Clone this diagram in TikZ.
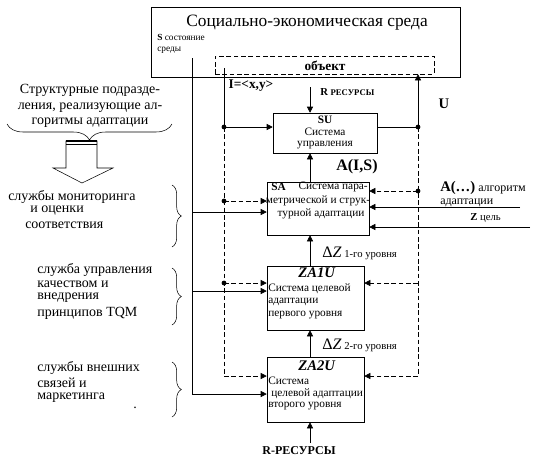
\documentclass[tikz,border=0pt]{standalone}
\usepackage{fontspec}
\setmainfont{Liberation Serif}
\usetikzlibrary{arrows.meta,decorations.pathreplacing,positioning}

\begin{document}
\begin{tikzpicture}[x=0.75pt,y=-0.75pt,
  box/.style={draw,rectangle,inner sep=0pt},
  arr/.style={-{Triangle[length=4.5pt,width=4.5pt]}},
  dsh/.style={dash pattern=on 3.5pt off 2pt},
  brc/.style={decorate,decoration={brace,amplitude=#1}},
  tx/.style={inner sep=0pt,font=\fontsize{#1}{#1}\selectfont},
  lt/.style={tx=#1,anchor=west}]
\useasboundingbox (0,0) rectangle (538,461);
% blocks
\node[box,minimum width=231.75pt,minimum height=52.5pt] (env) at (305.5,42) {};
\node[box,dsh,minimum width=164.25pt,minimum height=13.5pt] (obj) at (324.5,65) {};
\node[box,minimum width=78pt,minimum height=30pt] (SU) at (325,133) {};
\node[box,minimum width=76.5pt,minimum height=39.75pt] (SA) at (318,208.5) {};
\node[box,minimum width=72.75pt,minimum height=48pt] (ZA1) at (315.5,298) {};
\node[box,minimum width=72.75pt,minimum height=48.75pt] (ZA2) at (315.5,389.5) {};
% texts of the environment
\node[tx=13] (ttl) at (307,23) {Социально-экономическая среда};
\node[lt=7] (st1) at (157,37) {\textbf{S} состояние};
\node[lt=7] (st2) at (157,50) {среды};
\node[tx=10] (objt) at (325,66) {\textbf{объект}};
\node[tx=10] (inp) at (251,86) {\textbf{I=<x,y>}};
\node[lt=8] (rtop) at (320,92) {\textbf{R \fontsize{6.5}{7}\selectfont РЕСУРСЫ}};
\node[tx=11] (ul) at (444,104) {\textbf{U}};
\node[tx=12] (ais) at (357,167) {\textbf{A(I,S)}};
% texts of the blocks
\node[tx=8.5] (su1) at (325,120) {\textbf{SU}};
\node[tx=8.5] (su2) at (325,132) {Система};
\node[tx=8.5] (su3) at (325,145) {управления};
\node[lt=8.5] (sa1) at (271,187) {\textbf{SA}};
\node[tx=8.5,anchor=east] (sa2) at (368,187) {Система пара-};
\node[tx=8.5] (sa3) at (318,201) {метрической и струк-};
\node[tx=8.5] (sa4) at (321,214) {турной адаптации};
\node[tx=11] (z1a) at (317,273) {\textbf{\textit{ZA1U}}};
\node[lt=8.5] (z1b) at (268,289) {Система целевой};
\node[lt=8.5] (z1c) at (268,302) {адаптации};
\node[lt=8.5] (z1d) at (268,315) {первого уровня};
\node[tx=11] (z2a) at (317,366) {\textbf{\textit{ZA2U}}};
\node[lt=8.5] (z2b) at (268,381) {Система};
\node[lt=8.5] (z2c) at (271,394) {целевой адаптации};
\node[lt=8.5] (z2d) at (268,406) {второго уровня};
\node[lt=8] (dz1) at (322,253) {{\fontsize{12}{12}\selectfont Δ\textit{Z}} 1-го уровня};
\node[lt=8] (dz2) at (322,345) {{\fontsize{12}{12}\selectfont Δ\textit{Z}} 2-го уровня};
\node[lt=9] (alg1) at (440,188) {{\fontsize{11}{11}\selectfont\textbf{A(…)}} алгоритм};
\node[lt=9] (alg2) at (440,203) {адаптации};
\node[lt=8] (zc) at (470,218) {\textbf{Z} цель};
\node[tx=9] (rbot) at (299,451) {\textbf{R-РЕСУРСЫ}};
% left side
\node[tx=10.5,align=center] (struct) at (90,106) {Структурные подразде-\\[1.2pt]ления, реализующие ал-\\[1.2pt]горитмы адаптации};
\node[lt=10.5] (m1) at (8,197) {службы мониторинга};
\node[lt=10.5] (m2) at (30,211) {и оценки};
\node[lt=10.5] (m3) at (25,225) {соответствия};
\node[lt=10.5] (q1) at (37,270) {служба управления};
\node[lt=10.5] (q2) at (37,284) {качеством и};
\node[lt=10.5] (q3) at (37,298) {внедрения};
\node[lt=10.5] (q4) at (37,313) {принципов TQM};
\node[lt=10.5] (e1) at (37,368) {службы внешних};
\node[lt=10.5] (e2) at (37,383) {связей и};
\node[lt=10.5] (e3) at (37,398) {маркетинга};
\node[tx=10.5] (pt) at (135,408) {.};
\draw[brc=12pt] (172,124) -- (7,124);
\draw[brc=7pt] (172,185) -- (172,247);
\draw[brc=7pt] (172,268) -- (172,325);
\draw[brc=7pt] (172,362) -- (172,417);
\draw (66,141) -- (97,141) -- (97,168) -- (113,168) -- (82,183) -- (53,168) -- (66,168) -- cycle;
\draw[line width=1.5pt] (66,141) -- (97,141);
\draw (66,144.5) -- (97,144.5);
% junctions
\coordinate (bTop) at (192,58);
\coordinate (bSA) at (192,212);
\coordinate (bZ1) at (192,291);
\coordinate (bZ2) at (192,394);
\coordinate (iTop) at (224,68);
\coordinate (iSU) at (224,127);
\coordinate (iSA) at (224,201);
\coordinate (iZ1) at (224,283);
\coordinate (iZ2) at (224,376);
\coordinate (uSU) at (418,127);
\coordinate (uSA) at (418,191);
\coordinate (uZ1) at (418,283);
\coordinate (uZ2) at (418,376);
\coordinate (rTop) at (310,87);
\coordinate (rBot) at (310,443);
\coordinate (aIn) at (520,207);
\coordinate (zIn) at (530,227);
% state bus
\draw (bTop) -- (bZ2);
\foreach \j/\b in {bSA/SA,bZ1/ZA1,bZ2/ZA2}
  \draw[arr] (\j) -- (\j -| \b.west);
% input bus
\draw (iTop) -- (iSU);
\draw[arr] (iSU) -- (iSU -| SU.west);
\draw[dsh] (iSU) -- (iZ2);
\foreach \j/\b in {iSA/SA,iZ1/ZA1,iZ2/ZA2}
  \draw[dsh,arr] (\j) -- (\j -| \b.west);
% control bus
\draw (uSU -| SU.east) -- (uSU);
\draw[arr] (uSU) -- (uSU |- obj.south);
\draw[dsh] (uSU) -- (uZ2);
\foreach \j/\b in {uSA/SA,uZ1/ZA1,uZ2/ZA2}
  \draw[dsh,arr] (\j) -- (\j -| \b.east);
\foreach \j in {iSU,iSA,iZ1,uSU,uSA}
  \fill (\j) circle (1.8pt);
% vertical flow
\draw[arr] (rTop) -- (rTop |- SU.north);
\draw[arr] (SA.north -| rTop) -- (SU.south -| rTop);
\draw[arr] (ZA1.north -| rTop) -- (SA.south -| rTop);
\draw[arr] (ZA2.north -| rTop) -- (ZA1.south -| rTop);
\draw[arr] (rBot) -- (rBot |- ZA2.south);
\draw[arr] (aIn) -- (aIn -| SA.east);
\draw[arr] (zIn) -- (zIn -| SA.east);
\end{tikzpicture}
\end{document}
